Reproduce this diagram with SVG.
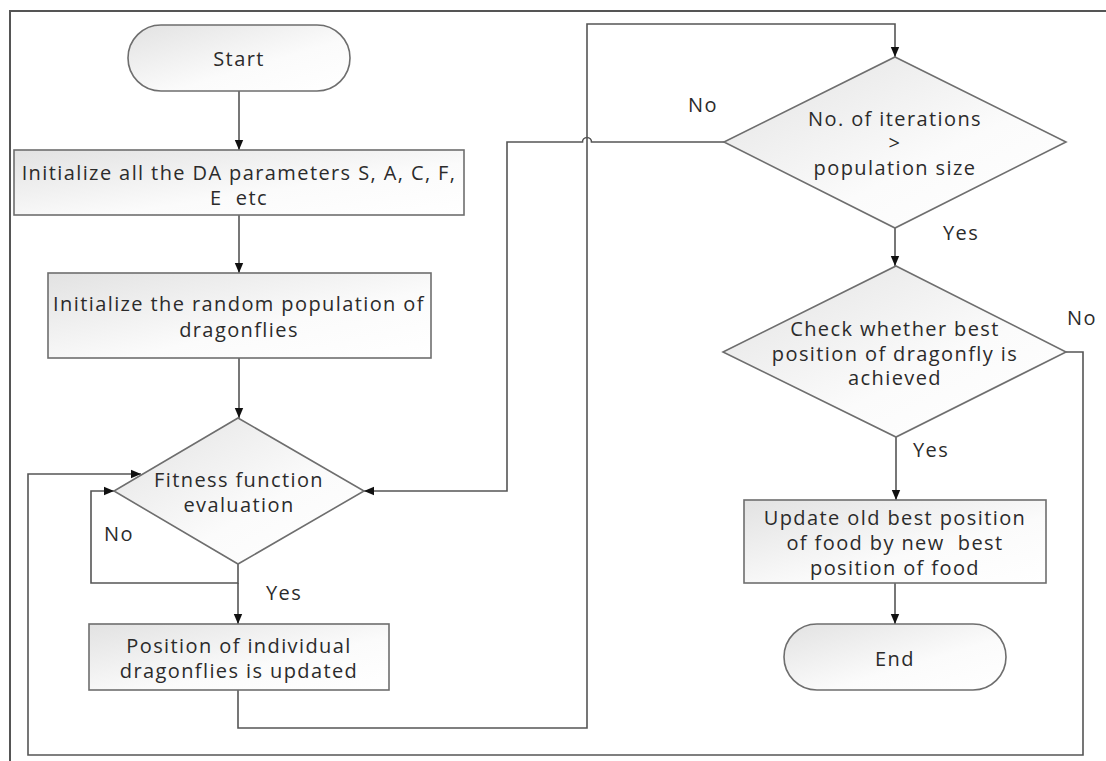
<svg xmlns="http://www.w3.org/2000/svg" width="1106" height="761" viewBox="0 0 1106 761">
<style>
.shape{stroke:#6e6e6e;stroke-width:1.6;fill:url(#g)}
.lbl{font-family:"Open Sans","Liberation Sans",sans-serif;font-size:20px;letter-spacing:1.4px;fill:#2b2b2b;text-anchor:middle;dominant-baseline:central;white-space:pre}
.con{fill:none;stroke:#555;stroke-width:1.6}
.arr{marker-end:url(#ah)}
</style>
<defs>
<linearGradient id="g" x1="0" y1="0" x2="1" y2="1">
<stop offset="0" stop-color="#e2e2e2"/>
<stop offset="0.6" stop-color="#fbfbfb"/>
<stop offset="1" stop-color="#ffffff"/>
</linearGradient>
<marker id="ah" markerUnits="userSpaceOnUse" markerWidth="10" markerHeight="10" refX="10" refY="5" orient="auto">
<path d="M0,0.8 L10,5 L0,9.2 z" fill="#111"/>
</marker>
</defs>
<rect x="0" y="0" width="1106" height="761" fill="#fff"/>
<path d="M10,761 V11 H1106" fill="none" stroke="#555" stroke-width="2"/>

<g id="connectors">
<path class="con arr" d="M239,91 V150"/>
<path class="con arr" d="M239,215 V273"/>
<path class="con arr" d="M239,358 V418"/>
<path class="con arr" d="M238,564 V583 H91 V491 H114"/>
<path class="con arr" d="M238,583 V624"/>
<path class="con arr" d="M238,690 V728 H587 V24 H895 V57"/>
<path class="con arr" d="M724,142 H591.5 A4.5,4.5 0 0 0 582.5,142 H507 V491 H364"/>
<path class="con arr" d="M895,228 V266"/>
<path class="con arr" d="M1066,352 H1083 V755 H28 V474 H141"/>
<path class="con arr" d="M896,437 V500"/>
<path class="con arr" d="M895,583 V624"/>
</g>

<g id="start">
<rect class="shape" x="128" y="25" width="222" height="66" rx="33" ry="33"/>
<text class="lbl" x="239" y="58">Start</text>
</g>

<g id="init-params">
<rect class="shape" x="14" y="150" width="450" height="65"/>
<text class="lbl" x="239" y="172">Initialize all the DA parameters S, A, C, F,</text>
<text class="lbl" x="239" y="197" xml:space="preserve">E  etc</text>
</g>

<g id="init-population">
<rect class="shape" x="48" y="273" width="383" height="85"/>
<text class="lbl" x="239" y="303">Initialize the random population of</text>
<text class="lbl" x="239" y="329">dragonflies</text>
</g>

<g id="fitness">
<polygon class="shape" points="238,418 364,491 238,564 114,491"/>
<text class="lbl" x="239" y="479">Fitness function</text>
<text class="lbl" x="239" y="504">evaluation</text>
</g>

<g id="update-position">
<rect class="shape" x="89" y="624" width="300" height="66"/>
<text class="lbl" x="239" y="645">Position of individual</text>
<text class="lbl" x="239" y="670">dragonflies is updated</text>
</g>

<g id="iterations">
<polygon class="shape" points="895,57 1066,142 895,228 724,142"/>
<text class="lbl" x="895" y="118">No. of iterations</text>
<text class="lbl" x="895" y="142">&gt;</text>
<text class="lbl" x="895" y="167">population size</text>
</g>

<g id="check-best">
<polygon class="shape" points="896,266 1066,352 896,437 723,352"/>
<text class="lbl" x="895" y="328">Check whether best</text>
<text class="lbl" x="895" y="353">position of dragonfly is</text>
<text class="lbl" x="895" y="377">achieved</text>
</g>

<g id="update-food">
<rect class="shape" x="744" y="500" width="302" height="83"/>
<text class="lbl" x="895" y="517">Update old best position</text>
<text class="lbl" x="895" y="542" xml:space="preserve">of food by new  best</text>
<text class="lbl" x="895" y="567">position of food</text>
</g>

<g id="end">
<rect class="shape" x="784" y="624" width="222" height="66" rx="33" ry="33"/>
<text class="lbl" x="895" y="658">End</text>
</g>

<g id="labels">
<text class="lbl" x="119" y="533">No</text>
<text class="lbl" x="284" y="592">Yes</text>
<text class="lbl" x="703" y="104">No</text>
<text class="lbl" x="961" y="232">Yes</text>
<text class="lbl" x="1082" y="317">No</text>
<text class="lbl" x="931" y="449">Yes</text>
</g>
</svg>
